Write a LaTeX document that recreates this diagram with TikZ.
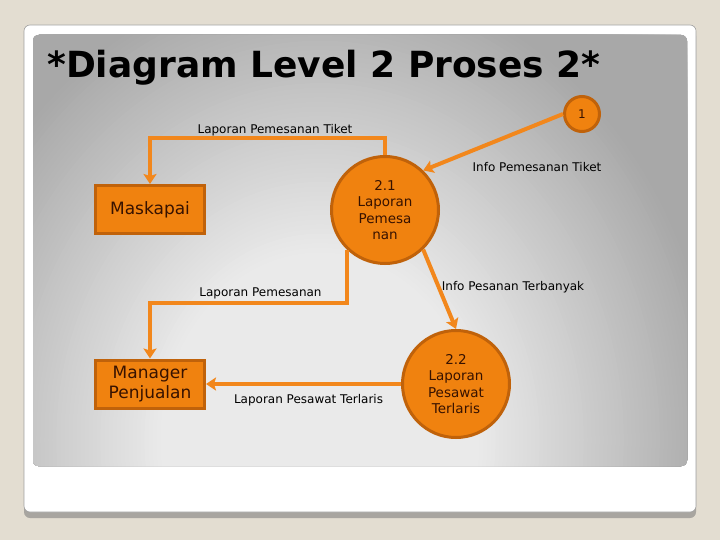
\documentclass[tikz,border=0pt]{standalone}
\usepackage{fontspec}
\setmainfont{DejaVu Sans}
\usetikzlibrary{arrows.meta}
\definecolor{bgbeige}{RGB}{227,221,209}
\definecolor{orfill}{RGB}{240,130,15}
\definecolor{ordraw}{RGB}{192,98,10}
\definecolor{orline}{RGB}{242,135,28}
\definecolor{txtbrown}{RGB}{55,18,0}
\definecolor{pc}{RGB}{234,234,234}
\definecolor{pe}{RGB}{168,168,168}
\definecolor{cardline}{RGB}{160,160,160}
\definecolor{cardshadow}{RGB}{168,165,160}
\tikzset{
  proc/.style={circle, fill=orfill, draw=ordraw, line width=3pt, text=txtbrown, align=center, inner sep=0pt, font=\fontsize{13.5}{16.5}\selectfont},
  ent/.style={rectangle, fill=orfill, draw=ordraw, line width=3pt, text=txtbrown, align=center, minimum width=109pt, minimum height=48pt, inner sep=0pt, font=\fontsize{17}{20}\selectfont},
  flow/.style={draw=orline, line width=4pt, -{Stealth[length=10pt,width=13pt,inset=2pt]}},
  lbl/.style={font=\fontsize{12}{14}\selectfont, text=black, inner sep=0pt},
}
\begin{document}
\begin{tikzpicture}[x=1pt,y=-1pt]
\useasboundingbox (0,0) rectangle (720,540);
\fill[bgbeige] (0,0) rectangle (720,540);
% card
\fill[cardshadow, rounded corners=6pt] (24,30) rectangle (696,518);
\filldraw[fill=white, draw=cardline, line width=0.6pt, rounded corners=6pt] (24,25) rectangle (696,512);
% panel with stepped radial gradient
\begin{scope}
  \clip[rounded corners=6pt] (33,35) rectangle (687,466);
  \fill[pe] (33,35) rectangle (687,466);
  \foreach \f in {1.30,1.29,...,0.39}{
    \pgfmathsetmacro\p{max(0,min(100,(\f-0.4)/0.6*100))}
    \pgfmathsetmacro\rx{400*\f}
    \pgfmathsetmacro\ry{470*\f}
    \fill[pe!\p!pc] (320,440) ellipse [x radius=\rx pt, y radius=\ry pt];
  }
\end{scope}
% title
\node[anchor=base west, inner sep=0pt, font=\fontsize{36}{40}\selectfont\bfseries] (title) at (47,78) {*Diagram Level 2 Proses 2*};
% nodes
\node[proc, minimum size=35pt, font=\fontsize{12}{14}\selectfont] (c1) at (582,114) {1};
\node[proc, minimum size=107pt] (c21) at (385,210) {2.1\\Laporan\\Pemesa\\nan};
\node[proc, minimum size=107pt] (c22) at (456,384) {2.2\\Laporan\\Pesawat\\Terlaris};
\node[ent] (mask) at (150,209.5) {Maskapai};
\node[ent] (mgr) at (150,384) {Manager\\Penjualan};
% connectors
\coordinate (k1) at (150,138);
\coordinate (k2) at (150,303);
\draw[flow] (c21.north) |- (k1) -- (mask.north);
\draw[flow] (c21.226) |- (k2) -- (mgr.north);
\draw[flow] (c1.west) -- (c21.46);
\draw[flow] (c21.314) -- (c22.north);
\draw[flow] (c22.west) -- (c22.west -| mgr.east);
% labels
\node[lbl] (l1) at (275,130) {Laporan Pemesanan Tiket};
\node[lbl] (l2) at (537,167) {Info Pemesanan Tiket};
\node[lbl] (l3) at (260.5,293) {Laporan Pemesanan};
\node[lbl] (l4) at (513,287) {Info Pesanan Terbanyak};
\node[lbl] (l5) at (308.5,400) {Laporan Pesawat Terlaris};
\end{tikzpicture}
\end{document}
